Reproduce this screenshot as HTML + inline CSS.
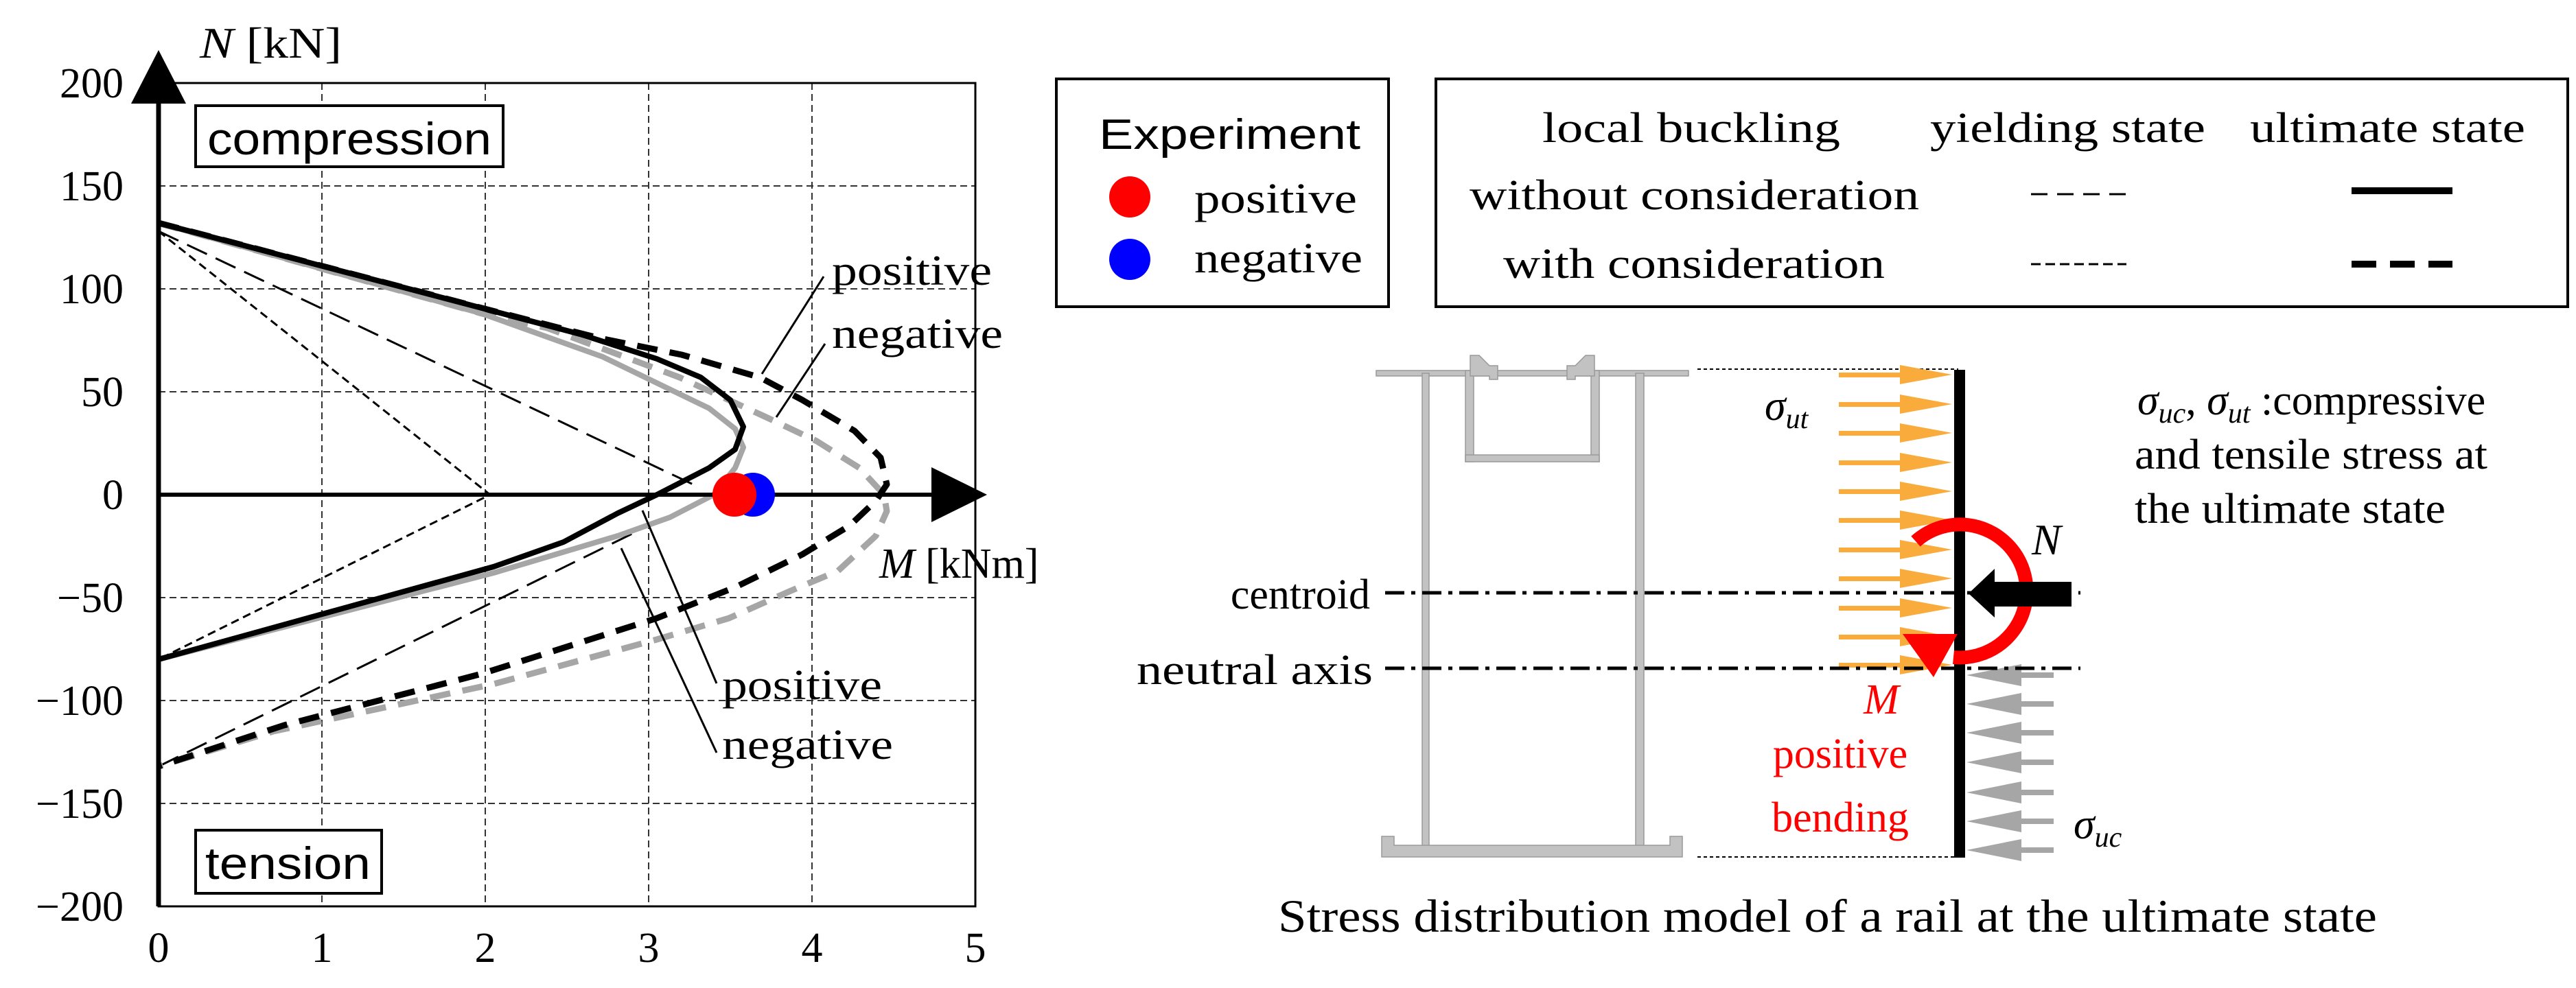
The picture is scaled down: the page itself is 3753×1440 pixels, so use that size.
<!DOCTYPE html>
<html><head><meta charset="utf-8">
<style>
html,body{margin:0;padding:0;background:#fff;}
svg{display:block;}
.s{font-family:"Liberation Serif",serif;}
.a{font-family:"Liberation Sans",sans-serif;}
</style></head>
<body>
<svg width="3753" height="1440" viewBox="0 0 3753 1440" xmlns="http://www.w3.org/2000/svg">
<rect width="3753" height="1440" fill="#fff"/>
<g stroke="#333" stroke-width="2" stroke-dasharray="10 6" fill="none">
<line x1="469" y1="121" x2="469" y2="1321"/>
<line x1="707" y1="121" x2="707" y2="1321"/>
<line x1="945" y1="121" x2="945" y2="1321"/>
<line x1="1183" y1="121" x2="1183" y2="1321"/>
<line x1="231" y1="271" x2="1421" y2="271"/>
<line x1="231" y1="421" x2="1421" y2="421"/>
<line x1="231" y1="571" x2="1421" y2="571"/>
<line x1="231" y1="871" x2="1421" y2="871"/>
<line x1="231" y1="1021" x2="1421" y2="1021"/>
<line x1="231" y1="1171" x2="1421" y2="1171"/>
</g>
<rect x="231" y="121" width="1190" height="1200" fill="none" stroke="#000" stroke-width="3"/>
<rect x="285" y="154" width="448" height="89" fill="#fff" stroke="#000" stroke-width="4"/>
<text x="302" y="225" class="a" font-size="66" textLength="414" lengthAdjust="spacingAndGlyphs">compression</text>
<rect x="285" y="1210" width="271" height="92" fill="#fff" stroke="#000" stroke-width="4"/>
<text x="299" y="1281" class="a" font-size="66" textLength="241" lengthAdjust="spacingAndGlyphs">tension</text>
<g fill="none" stroke="#000" stroke-width="3">
<polyline points="231,337 1016,709" stroke-dasharray="32 14"/>
<polyline points="231,1117 933,772" stroke-dasharray="32 14"/>
<polyline points="231,337 714,721 231,961" stroke-dasharray="12 7"/>
</g>
<g fill="none" stroke-linejoin="round">
<polyline stroke="#a6a6a6" stroke-width="9" stroke-dasharray="30 18" points="231,325 702,457 797,478 990,550 1114,607 1190,643 1252,682 1288,721 1292,745 1276,781 1221,832 1150,862 1062,901 957,932 719,997 398,1066 231,1117"/>
<polyline stroke="#000" stroke-width="9" stroke-dasharray="30 18" points="231,325 702,449 874,493 993,517 1107,550 1169,583 1245,628 1283,667 1292,706 1276,730 1238,766 1169,808 1071,856 957,901 702,982 414,1057 231,1117"/>
<polyline stroke="#a6a6a6" stroke-width="8" points="231,325 702,457 878,520 1033,595 1071,625 1083,652 1071,682 1040,721 976,754 900,781 719,835 231,961"/>
<polyline stroke="#000" stroke-width="8" points="231,325 702,449 845,487 957,523 1021,550 1064,583 1083,622 1071,655 1033,682 957,721 900,748 821,790 719,826 231,961"/>
</g>
<line x1="231" y1="721" x2="1370" y2="721" stroke="#000" stroke-width="6"/>
<polygon points="1357,681 1438,721 1357,761" fill="#000"/>
<line x1="231" y1="1321" x2="231" y2="140" stroke="#000" stroke-width="7"/>
<polygon points="191,151 231,73 271,151" fill="#000"/>
<circle cx="1097" cy="721" r="32" fill="#0000ff"/>
<circle cx="1070" cy="721" r="32" fill="#ff0000"/>
<g stroke="#000" stroke-width="3">
<line x1="1200" y1="403" x2="1110" y2="545"/>
<line x1="1202" y1="501" x2="1131" y2="608"/>
<line x1="936" y1="744" x2="1044" y2="996"/>
<line x1="905" y1="799" x2="1044" y2="1097"/>
</g>
<g class="s" font-size="62">
<text x="1212" y="415" textLength="233" lengthAdjust="spacingAndGlyphs">positive</text>
<text x="1212" y="507" textLength="249" lengthAdjust="spacingAndGlyphs">negative</text>
<text x="1052" y="1019" textLength="233" lengthAdjust="spacingAndGlyphs">positive</text>
<text x="1052" y="1106" textLength="249" lengthAdjust="spacingAndGlyphs">negative</text>
</g>
<g class="s" font-size="62" text-anchor="end">
<text x="180" y="142">200</text>
<text x="180" y="292">150</text>
<text x="180" y="442">100</text>
<text x="180" y="592">50</text>
<text x="180" y="742">0</text>
<text x="180" y="892">−50</text>
<text x="180" y="1042">−100</text>
<text x="180" y="1192">−150</text>
<text x="180" y="1342">−200</text>
</g>
<g class="s" font-size="62" text-anchor="middle">
<text x="231" y="1402">0</text>
<text x="469" y="1402">1</text>
<text x="707" y="1402">2</text>
<text x="945" y="1402">3</text>
<text x="1183" y="1402">4</text>
<text x="1421" y="1402">5</text>
</g>
<text x="291" y="84" class="s" font-size="64" textLength="207" lengthAdjust="spacingAndGlyphs"><tspan font-style="italic">N</tspan> [kN]</text>
<text x="1281" y="842" class="s" font-size="62"><tspan font-style="italic">M</tspan> [kNm]</text>

<rect x="1539" y="115" width="484" height="332" fill="none" stroke="#000" stroke-width="4"/>
<text x="1601" y="217" class="a" font-size="62" textLength="381" lengthAdjust="spacingAndGlyphs">Experiment</text>
<circle cx="1646" cy="287" r="30" fill="#ff0000"/>
<circle cx="1646" cy="378" r="30" fill="#0000ff"/>
<text x="1740" y="310" class="s" font-size="62" textLength="237" lengthAdjust="spacingAndGlyphs">positive</text>
<text x="1740" y="397" class="s" font-size="62" textLength="245" lengthAdjust="spacingAndGlyphs">negative</text>
<rect x="2092" y="115" width="1649" height="332" fill="none" stroke="#000" stroke-width="4"/>
<g class="s" font-size="62">
<text x="2247" y="207" textLength="434" lengthAdjust="spacingAndGlyphs">local buckling</text>
<text x="2812" y="207" textLength="401" lengthAdjust="spacingAndGlyphs">yielding state</text>
<text x="3278" y="207" textLength="401" lengthAdjust="spacingAndGlyphs">ultimate state</text>
<text x="2141" y="305" textLength="655" lengthAdjust="spacingAndGlyphs">without consideration</text>
<text x="2190" y="405" textLength="556" lengthAdjust="spacingAndGlyphs">with consideration</text>
</g>
<line x1="2959" y1="283" x2="3098" y2="283" stroke="#000" stroke-width="3" stroke-dasharray="24 14"/>
<line x1="2959" y1="385" x2="3098" y2="385" stroke="#000" stroke-width="3" stroke-dasharray="14 7"/>
<line x1="3426" y1="278" x2="3573" y2="278" stroke="#000" stroke-width="10"/>
<line x1="3426" y1="385" x2="3573" y2="385" stroke="#000" stroke-width="10" stroke-dasharray="36 20"/>

<g fill="#c2c2c2" stroke="#999" stroke-width="1.5">
<rect x="2005" y="540" width="455" height="8"/>
<rect x="2072" y="544" width="10" height="692"/>
<rect x="2383" y="544" width="12" height="692"/>
<rect x="2135" y="540" width="12" height="133"/>
<rect x="2318" y="540" width="12" height="133"/>
<rect x="2135" y="663" width="195" height="10"/>
<polygon points="2142,518 2155,518 2170,533 2182,533 2182,553 2170,553 2170,548 2142,548"/>
<polygon points="2323,518 2310,518 2295,533 2283,533 2283,553 2295,553 2295,548 2323,548"/>
<polygon points="2013,1219 2031,1219 2031,1232 2433,1232 2433,1219 2451,1219 2451,1249 2013,1249"/>
</g>
<line x1="2473" y1="538" x2="2853" y2="538" stroke="#000" stroke-width="2" stroke-dasharray="5 4"/>
<line x1="2473" y1="1249" x2="2853" y2="1249" stroke="#000" stroke-width="2" stroke-dasharray="5 4"/>
<g fill="#f9ab3c">
<rect x="2679" y="543" width="92" height="7"/><polygon points="2768,532 2844,546 2768,560"/>
<rect x="2679" y="586" width="92" height="7"/><polygon points="2768,575 2844,589 2768,603"/>
<rect x="2679" y="628" width="92" height="7"/><polygon points="2768,617 2844,631 2768,645"/>
<rect x="2679" y="671" width="92" height="7"/><polygon points="2768,660 2844,674 2768,688"/>
<rect x="2679" y="713" width="92" height="7"/><polygon points="2768,702 2844,716 2768,730"/>
<rect x="2679" y="755" width="92" height="7"/><polygon points="2768,744 2844,758 2768,772"/>
<rect x="2679" y="798" width="92" height="7"/><polygon points="2768,787 2844,801 2768,815"/>
<rect x="2679" y="840" width="92" height="7"/><polygon points="2768,829 2844,843 2768,857"/>
<rect x="2679" y="883" width="92" height="7"/><polygon points="2768,872 2844,886 2768,900"/>
<rect x="2679" y="925" width="92" height="7"/><polygon points="2768,914 2844,928 2768,942"/>
<rect x="2679" y="966" width="92" height="7"/><polygon points="2768,955 2844,969 2768,983"/>
</g>
<g fill="#a6a6a6">
<polygon points="2865,984 2945,968 2945,1000"/><rect x="2943" y="980" width="49" height="8"/>
<polygon points="2865,1026 2945,1010 2945,1042"/><rect x="2943" y="1022" width="49" height="8"/>
<polygon points="2865,1068 2945,1052 2945,1084"/><rect x="2943" y="1064" width="49" height="8"/>
<polygon points="2865,1111 2945,1095 2945,1127"/><rect x="2943" y="1107" width="49" height="8"/>
<polygon points="2865,1155 2945,1139 2945,1171"/><rect x="2943" y="1151" width="49" height="8"/>
<polygon points="2865,1197 2945,1181 2945,1213"/><rect x="2943" y="1193" width="49" height="8"/>
<polygon points="2865,1239 2945,1223 2945,1255"/><rect x="2943" y="1235" width="49" height="8"/>
</g>
<line x1="2018" y1="864" x2="3031" y2="864" stroke="#000" stroke-width="5" stroke-dasharray="28 10 6 10"/>
<line x1="2018" y1="974" x2="3031" y2="974" stroke="#000" stroke-width="5" stroke-dasharray="28 10 6 10"/>
<rect x="2847" y="539" width="16" height="711" fill="#000"/>
<path d="M 2791 789 A 97 97 0 1 1 2846 958" fill="none" stroke="#ff0000" stroke-width="20"/>
<polygon points="2772,924 2852,924 2817,987" fill="#ff0000"/>
<rect x="2903" y="848" width="115" height="36" fill="#000"/>
<polygon points="2868,865 2906,829 2906,900" fill="#000"/>
<text x="2960" y="808" class="s" font-size="64" font-style="italic">N</text>
<g class="s" font-size="62">
<text x="1996" y="887" text-anchor="end">centroid</text>
<text x="1656" y="997" textLength="344" lengthAdjust="spacingAndGlyphs">neutral axis</text>
<text x="2571" y="612" font-style="italic">σ<tspan font-size="42" dy="12">ut</tspan></text>
<text x="3021" y="1222" font-style="italic">σ<tspan font-size="42" dy="12">uc</tspan></text>
<text x="2741" y="1040" fill="#ff0000" font-style="italic" text-anchor="middle">M</text>
<text x="2681" y="1119" fill="#ff0000" text-anchor="middle">positive</text>
<text x="2681" y="1212" fill="#ff0000" text-anchor="middle">bending</text>
<text x="3114" y="604"><tspan font-style="italic">σ</tspan><tspan font-style="italic" font-size="42" dy="12">uc</tspan><tspan dy="-12">, </tspan><tspan font-style="italic">σ</tspan><tspan font-style="italic" font-size="42" dy="12">ut</tspan><tspan dy="-12"> :compressive</tspan></text>
<text x="3110" y="683" textLength="514" lengthAdjust="spacingAndGlyphs">and tensile stress at</text>
<text x="3110" y="762" textLength="453" lengthAdjust="spacingAndGlyphs">the ultimate state</text>
<text x="1862" y="1358" font-size="68" textLength="1601" lengthAdjust="spacingAndGlyphs">Stress distribution model of a rail at the ultimate state</text>
</g>
</svg>
</body></html>
